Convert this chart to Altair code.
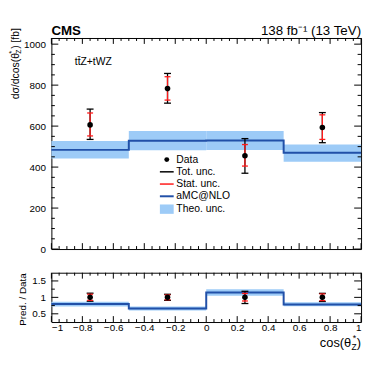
import altair as alt
import pandas as pd
import numpy as np

# ---------------- data ----------------
bin_lo = [-1.0, -0.5, 0.0, 0.5]
bin_hi = [-0.5, 0.0, 0.5, 1.0]
bin_center = [-0.75, -0.25, 0.25, 0.75]

data_xsec = [606, 783, 455, 593]
tot_up = [683, 857, 539, 666]
tot_dn = [535, 712, 370, 519]
stat_up = [664, 841, 510, 655]
stat_dn = [552, 727, 405, 535]

pred_xsec = [484, 529, 530, 470]
theo_up = [527, 576, 576, 510]
theo_dn = [442, 482, 484, 426]

ratio_pred = [0.80, 0.66, 1.15, 0.78]
ratio_theo_up = [0.87, 0.72, 1.25, 0.85]
ratio_theo_dn = [0.72, 0.60, 1.05, 0.73]

x_major = [-1.0, -0.8, -0.6, -0.4, -0.2, 0.0, 0.2, 0.4, 0.6, 0.8, 1.0]
y_major_top = [0, 200, 400, 600, 800, 1000]
y_major_bot = [0.5, 1.0, 1.5]
y_minor_bot = [0.75, 1.25]

legend_labels = ["Data", "Tot. unc.", "Stat. unc.", "aMC@NLO", "Theo. unc."]

# ---------------- style ----------------
FONT = "Liberation Sans"
LIGHT = "#9dcbf7"
BLUE = "#2150a8"
RED = "#ff1a1a"
W, H1, H2 = 314, 214, 50
X_DOM = [-1, 1]
Y_DOM_TOP = [0, 1030]
Y_DOM_BOT = [0.25, 1.75]

x_minor = [round(v, 2) for v in np.arange(-1.0, 1.0001, 0.05) if round(v, 2) not in x_major]
y_minor_top = [v for v in range(0, 1031, 50) if v not in y_major_top]

# ---------------- tables ----------------
bins = pd.DataFrame({"lo": bin_lo, "hi": bin_hi, "x": bin_center,
                     "data": data_xsec, "tot_up": tot_up, "tot_dn": tot_dn,
                     "stat_up": stat_up, "stat_dn": stat_dn,
                     "pred": pred_xsec, "theo_up": theo_up, "theo_dn": theo_dn,
                     "r_pred": ratio_pred, "r_up": ratio_theo_up, "r_dn": ratio_theo_dn})
bins["r_data"] = bins["data"] / bins["data"]
bins["r_tot_up"] = bins["tot_up"] / bins["data"]
bins["r_tot_dn"] = bins["tot_dn"] / bins["data"]
bins["r_stat_up"] = bins["stat_up"] / bins["data"]
bins["r_stat_dn"] = bins["stat_dn"] / bins["data"]

step = pd.DataFrame({"edge": bin_lo + [bin_hi[-1]],
                     "pred": pred_xsec + [pred_xsec[-1]],
                     "r_pred": ratio_pred + [ratio_pred[-1]]})


def caps(cols):
    rows = []
    for c in cols:
        for xv, yv in zip(bins["x"], bins[c]):
            rows.append({"x": xv, "y": yv})
    return pd.DataFrame(rows)


one = pd.DataFrame({"a": [0]})
xmaj_df = pd.DataFrame({"v": x_major})
xmin_df = pd.DataFrame({"v": x_minor})


def panel(ydom, height, ymaj, ymin, yaxis_title, bottom, yfmt):
    xsc = alt.Scale(domain=X_DOM, nice=False, zero=False)
    ysc = alt.Scale(domain=ydom, nice=False, zero=False)
    if bottom:
        xaxis = alt.Axis(values=x_major, ticks=False, domain=False, grid=False, format="~g",
                         labelFont=FONT, labelFontSize=10, labelColor="#000",
                         labelPadding=1, title=None)
    else:
        xaxis = alt.Axis(values=x_major, ticks=False, domain=False, grid=False, labels=False, title=None)
    yaxis = alt.Axis(values=ymaj, ticks=False, domain=False, grid=False, format=yfmt,
                     labelFont=FONT, labelFontSize=10, labelColor="#000", labelPadding=6,
                     title=yaxis_title, titleFont=FONT, titleFontSize=10, titleFontWeight="normal",
                     titleColor="#000", titleAnchor="end", titlePadding=4)

    def X(field):
        return alt.X(f"{field}:Q", scale=xsc, axis=xaxis)

    def Y(field):
        return alt.Y(f"{field}:Q", scale=ysc, axis=yaxis)

    if not bottom:
        band_lo, band_hi, line, tu, td, su, sd, pt = "theo_dn", "theo_up", "pred", "tot_up", "tot_dn", "stat_up", "stat_dn", "data"
    else:
        band_lo, band_hi, line, tu, td, su, sd, pt = "r_dn", "r_up", "r_pred", "r_tot_up", "r_tot_dn", "r_stat_up", "r_stat_dn", "r_data"

    band = alt.Chart(bins).mark_rect(color=LIGHT, opacity=1).encode(
        x=X("lo"), x2="hi", y=Y(band_lo), y2=band_hi)
    stepline = alt.Chart(step).mark_line(interpolate="step-after", color=BLUE, strokeWidth=2).encode(
        x=X("edge"), y=Y(line))
    tot = alt.Chart(bins).mark_rule(color="#000", strokeWidth=1.3).encode(x=X("x"), y=Y(td), y2=tu)
    tot_caps = alt.Chart(caps([tu, td])).mark_tick(orient="horizontal", color="#000", size=7,
                                                   thickness=1.3, opacity=1).encode(x=X("x"), y=Y("y"))
    stat = alt.Chart(bins).mark_rule(color=RED, strokeWidth=1.3).encode(x=X("x"), y=Y(sd), y2=su)
    stat_caps = alt.Chart(caps([su, sd])).mark_tick(orient="horizontal", color=RED, size=6,
                                                    thickness=1.3, opacity=1).encode(x=X("x"), y=Y("y"))
    pts = alt.Chart(bins).mark_circle(color="#000", size=32, opacity=1).encode(x=X("x"), y=Y(pt))

    # inward ROOT-style ticks
    tick_layers = []
    for df, ln in [(xmaj_df, 6), (xmin_df, 3)]:
        tick_layers.append(alt.Chart(df).mark_rule(color="#000", strokeWidth=1).encode(
            x=X("v"), y=alt.value(height), y2=alt.value(height - ln)))
        tick_layers.append(alt.Chart(df).mark_rule(color="#000", strokeWidth=1).encode(
            x=X("v"), y=alt.value(0), y2=alt.value(ln)))
    for vals, ln in [(ymaj, 7), (ymin, 3.5)]:
        d = pd.DataFrame({"v": vals})
        tick_layers.append(alt.Chart(d).mark_rule(color="#000", strokeWidth=1).encode(
            y=Y("v"), x=alt.value(0), x2=alt.value(ln)))
        tick_layers.append(alt.Chart(d).mark_rule(color="#000", strokeWidth=1).encode(
            y=Y("v"), x=alt.value(W - ln), x2=alt.value(W)))

    layers = [band, stepline, tot, tot_caps, stat, stat_caps, pts] + tick_layers

    if bottom:
        tY = 75
        layers += [
            alt.Chart(one).mark_text(text=")", font=FONT, fontSize=13, align="right", baseline="alphabetic",
                                     color="#000").encode(x=alt.value(W), y=alt.value(tY)),
            alt.Chart(one).mark_text(text="Z", font=FONT, fontSize=8.5, align="right", baseline="alphabetic",
                                     dx=-4.5, dy=3, color="#000").encode(x=alt.value(W), y=alt.value(tY)),
            alt.Chart(one).mark_text(text="*", font=FONT, fontSize=9, align="right", baseline="alphabetic",
                                     dx=-5, dy=-6, color="#000").encode(x=alt.value(W), y=alt.value(tY)),
            alt.Chart(one).mark_text(text="cos(θ", font=FONT, fontSize=13, align="right", baseline="alphabetic",
                                     dx=-10, color="#000").encode(x=alt.value(W), y=alt.value(tY)),
        ]
    else:
        layers += [
            alt.Chart(one).mark_text(text="CMS", font=FONT, fontSize=13.5, fontWeight="bold", align="left",
                                     baseline="alphabetic", color="#000").encode(x=alt.value(0), y=alt.value(-3)),
            alt.Chart(one).mark_text(text="138 fb⁻¹ (13 TeV)", font=FONT, fontSize=13.5, align="right",
                                     baseline="alphabetic", color="#000").encode(x=alt.value(W), y=alt.value(-3)),
            alt.Chart(one).mark_text(text="tt\u0304Z+tWZ", font=FONT, fontSize=10.5, align="left",
                                     baseline="middle", color="#000").encode(x=alt.value(23.7), y=alt.value(24.7)),
        ]
        tx, ty = -36, 62
        layers += [
            alt.Chart(one).mark_text(text="dσ/dcos(θ", font=FONT, fontSize=10.5, angle=270, align="left",
                                     baseline="middle", color="#000").encode(x=alt.value(tx), y=alt.value(ty)),
            alt.Chart(one).mark_text(text="Z", font=FONT, fontSize=7, angle=270, align="left",
                                     baseline="middle", dx=46, dy=3, color="#000").encode(x=alt.value(tx), y=alt.value(ty)),
            alt.Chart(one).mark_text(text="*", font=FONT, fontSize=8, angle=270, align="left",
                                     baseline="middle", dx=46, dy=-3.5, color="#000").encode(x=alt.value(tx), y=alt.value(ty)),
            alt.Chart(one).mark_text(text=") [fb]", font=FONT, fontSize=10.5, angle=270, align="left",
                                     baseline="middle", dx=51, color="#000").encode(x=alt.value(tx), y=alt.value(ty)),
        ]
        lx_line0, lx_line1, lx_text = 110, 124, 126.7
        rows = [123.3, 135.7, 148.1, 160.5, 173.3]
        layers.append(alt.Chart(one).mark_circle(color="#000", size=25, opacity=1).encode(
            x=alt.value(117), y=alt.value(rows[0])))
        for yy, col, sw in [(rows[1], "#000", 1.5), (rows[2], RED, 1.5), (rows[3], BLUE, 2)]:
            layers.append(alt.Chart(one).mark_rule(color=col, strokeWidth=sw).encode(
                x=alt.value(lx_line0), x2=alt.value(lx_line1), y=alt.value(yy)))
        layers.append(alt.Chart(one).mark_rect(color=LIGHT, opacity=1).encode(
            x=alt.value(lx_line0), x2=alt.value(lx_line1), y=alt.value(rows[4] - 4.5), y2=alt.value(rows[4] + 5)))
        for yy, lab in zip(rows, legend_labels):
            layers.append(alt.Chart(one).mark_text(text=lab, font=FONT, fontSize=10.5, align="left",
                                                   baseline="middle", color="#000").encode(
                x=alt.value(lx_text), y=alt.value(yy)))

    return alt.layer(*layers).properties(width=W, height=height)


top = panel(Y_DOM_TOP, H1, y_major_top, y_minor_top, None, bottom=False, yfmt="d")
bot = panel(Y_DOM_BOT, H2, y_major_bot, y_minor_bot, "Pred. / Data", bottom=True, yfmt="~g")

chart = alt.vconcat(top, bot, spacing=17).properties(
    padding={"left": 0, "top": 13, "right": 0, "bottom": 0},
    background="white",
).configure_view(stroke="#000", strokeWidth=1)

chart.save("out.html", embed_options={"renderer": "svg", "actions": False})
